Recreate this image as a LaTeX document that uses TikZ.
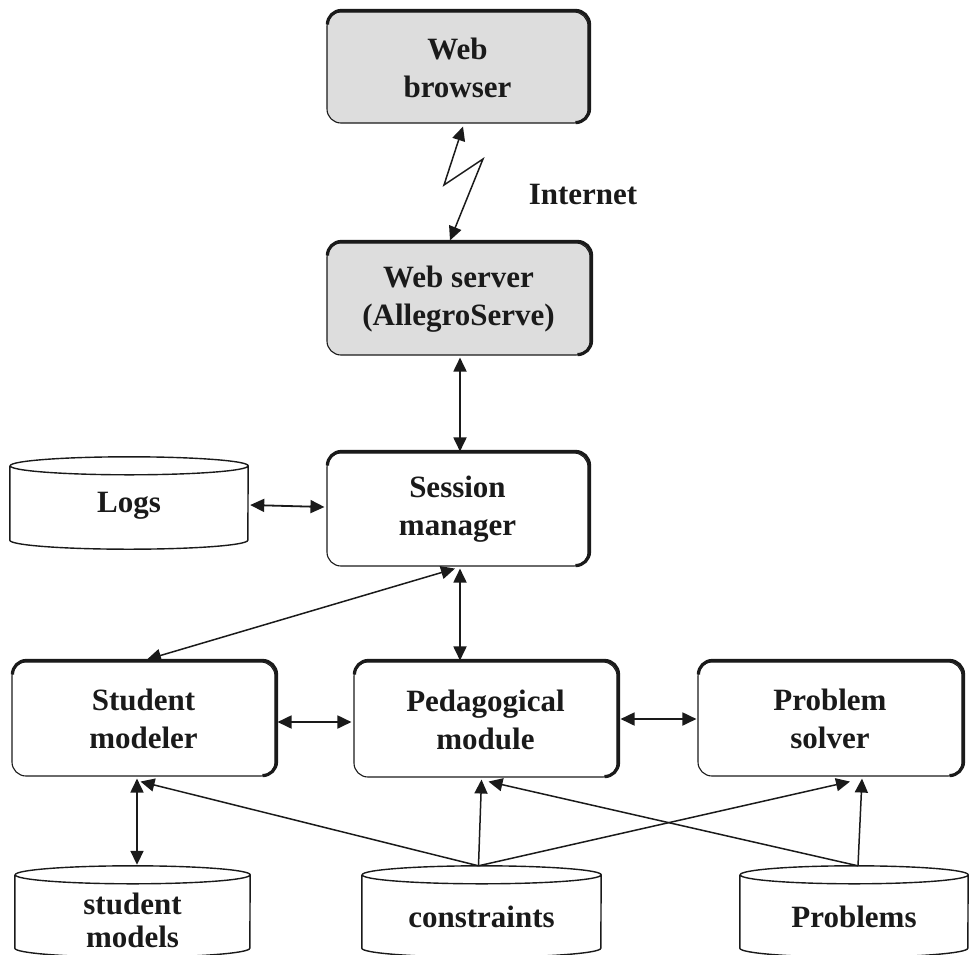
\documentclass[tikz,border=0pt]{standalone}
\usepackage{fontspec}
\setmainfont{Liberation Serif}
\usetikzlibrary{arrows.meta,calc}
\definecolor{boxgray}{HTML}{DDDDDD}
\definecolor{inkc}{HTML}{1A1A1A}
\tikzset{
  mod/.style={draw=inkc, line width=1.1pt, rounded corners=14pt, align=center,
    inner sep=0pt, font=\bfseries\fontsize{31}{38}\selectfont, text=inkc},
  graybox/.style={mod, fill=boxgray},
  dbbody/.style={inner sep=0pt, align=center},
  dbtext/.style={align=center, inner sep=0pt, font=\bfseries\fontsize{31}{33}\selectfont, text=inkc},
  cylline/.style={draw=inkc, line width=1.4pt},
  conn/.style={draw=inkc, line width=1.8pt, {Triangle[length=14pt,width=13pt]}-{Triangle[length=14pt,width=13pt]}},
  feed/.style={draw=inkc, line width=1.5pt, -{Triangle[length=14pt,width=13pt]}},
  lbl/.style={font=\bfseries\fontsize{31}{36}\selectfont, text=inkc}
}
\newcommand{\thickedge}[1]{%
  \draw[draw=inkc, line width=3.2pt, rounded corners=14pt]
    ($(#1.north west)+(1,1)+(0,-12)$) -- ($(#1.north west)+(1,1)$) --
    ($(#1.north east)+(1,1)$) -- ($(#1.south east)+(1,1)$) -- ($(#1.south east)+(1,1)+(-12,0)$);}
% #1 node name, #2 half width (pt)
\newcommand{\drawcyl}[2]{%
  \draw[cylline] ($(#1.north west)+(0,-9)$) -- ($(#1.south west)+(0,9)$)
    arc[start angle=180,end angle=360,x radius=#2pt,y radius=9pt]
    -- ($(#1.north east)+(0,-9)$)
    arc[start angle=0,end angle=360,x radius=#2pt,y radius=9pt];}
\begin{document}
\begin{tikzpicture}[x=1pt,y=1pt]
\useasboundingbox (0,0) rectangle (970,-954);
% boxes
\node[graybox, minimum width=261, minimum height=111] (browser) at (457.5,-67.5) {Web\\browser};
\node[graybox, minimum width=263, minimum height=112] (server) at (458.5,-299) {Web server\\(AllegroServe)};
\node[mod, minimum width=261, minimum height=113] (session) at (457.5,-509.5) {Session\\manager};
\node[mod, minimum width=263, minimum height=114] (student) at (143.5,-719) {Student\\modeler};
\node[mod, minimum width=263, minimum height=115] (ped) at (485.5,-719.5) {Pedagogical\\module};
\node[mod, minimum width=264, minimum height=114] (solver) at (830,-719) {Problem\\solver};
\foreach \nm in {browser,server,session,student,ped,solver}{\thickedge{\nm}}
% cylinders
\node[dbbody, minimum width=238, minimum height=92] (logs) at (129,-503) {};
\node[dbbody, minimum width=235, minimum height=91] (smodels) at (132.5,-911.5) {};
\node[dbbody, minimum width=239, minimum height=91] (constraints) at (481.5,-911.5) {};
\node[dbbody, minimum width=228, minimum height=91] (problems) at (854,-911.5) {};
\drawcyl{logs}{119}
\drawcyl{smodels}{117.5}
\drawcyl{constraints}{119.5}
\drawcyl{problems}{114}
\node[dbtext] (logst) at (129,-506) {Logs};
\node[dbtext] (smodelst) at (132.5,-920) {student\\models};
\node[dbtext] (constraintst) at (481.5,-917) {constraints};
\node[dbtext] (problemst) at (854,-917) {Problems};
% label
\node[lbl] (internet) at (583,-194) {Internet};
% connectors
\coordinate (z1) at (444,-185);
\coordinate (z2) at (483,-159);
\draw[conn, line width=1.5pt] ($(browser.south)+(5.5,-3)$) -- (z1) -- (z2) -- ($(server.north)+(-8.5,2)$);
\draw[conn] ($(server.south)+(1.5,-2)$) -- ($(session.north)+(2.5,1)$);
\draw[conn] ($(logs.east)+(2,-2)$) -- ($(session.west)+(-2,2.5)$);
\draw[conn, line width=1.5pt] ($(session.south)+(-2.5,-2)$) -- ($(student.north)+(3.5,2)$);
\draw[conn] ($(session.south)+(2.5,-2)$) -- ($(ped.north)+(-25.5,1)$);
\draw[conn] ($(student.east)+(2,-3)$) -- ($(ped.west)+(-2,-2.5)$);
\draw[conn] ($(ped.east)+(3,0.5)$) -- ($(solver.west)+(-1,0)$);
\draw[conn] ($(student.south)+(-6.5,-2)$) -- ($(smodels.north)+(4.5,1)$);
\draw[feed] ($(constraints.north)+(-3,0)$) -- ($(student.south)+(-3,-5)$);
\draw[feed] ($(constraints.north)+(-3,0)$) -- ($(ped.south)+(-4,-2)$);
\draw[feed] ($(constraints.north)+(-3,0)$) -- ($(solver.south)+(20,-5)$);
\draw[feed] ($(problems.north)+(4,0)$) -- ($(solver.south)+(32,-2)$);
\draw[feed] ($(problems.north)+(4,0)$) -- ($(ped.south)+(3,-4)$);
\end{tikzpicture}
\end{document}
